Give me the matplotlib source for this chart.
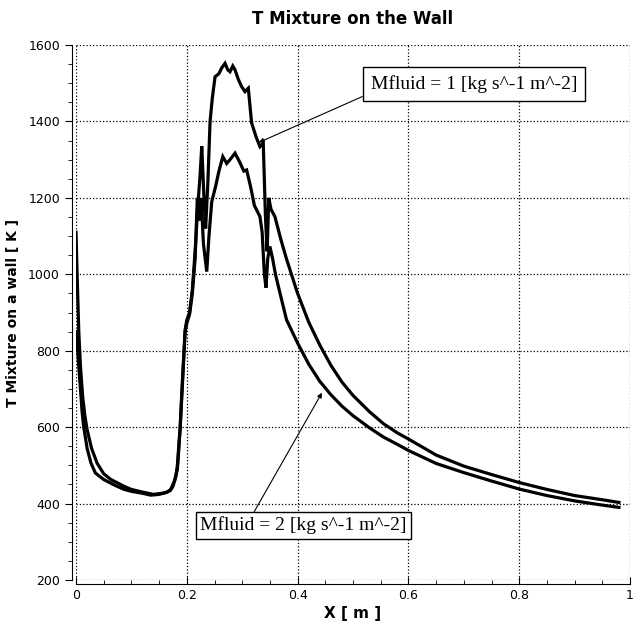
import numpy as np
import matplotlib
matplotlib.use('Agg')
import matplotlib.pyplot as plt
from matplotlib.ticker import MultipleLocator

# Mfluid = 1 (upper curve in peak and tail)
x1 = [0, 0.002, 0.005, 0.008, 0.012, 0.016, 0.02, 0.028, 0.038, 0.05,
      0.063, 0.087, 0.1, 0.12, 0.14, 0.16, 0.17, 0.175, 0.18, 0.183,
      0.188, 0.192, 0.197, 0.2, 0.205, 0.21, 0.215, 0.22, 0.224, 0.227,
      0.231, 0.234, 0.238, 0.242, 0.246, 0.251, 0.258, 0.263, 0.269, 0.274,
      0.278, 0.283, 0.287, 0.293, 0.299, 0.305, 0.311, 0.317, 0.325, 0.332,
      0.338, 0.342, 0.345, 0.348, 0.352, 0.359, 0.37, 0.38, 0.39, 0.4,
      0.42, 0.44, 0.46, 0.48, 0.5, 0.53, 0.555, 0.58, 0.6, 0.65,
      0.7, 0.75, 0.8, 0.85, 0.9, 0.95, 0.98]
y1 = [1110, 1000, 850, 760, 680, 630, 594, 545, 506, 478,
      463, 445, 437, 430, 424, 428, 434, 445, 470, 500,
      600, 720, 855, 880, 900, 960, 1060, 1180, 1260, 1335,
      1200, 1120, 1240, 1400, 1460, 1517, 1525, 1540, 1552, 1535,
      1530, 1545, 1535, 1510, 1491, 1478, 1487, 1396, 1360, 1334,
      1343, 1150, 1060, 1200, 1170, 1151, 1090, 1040, 995, 950,
      875, 815, 762, 718, 683, 640, 609, 585, 569, 527,
      498, 476, 455, 437, 421, 410, 403]

# Mfluid = 2
x2 = [0, 0.003, 0.006, 0.009, 0.011, 0.014, 0.02, 0.027, 0.035, 0.05,
      0.07, 0.087, 0.1, 0.12, 0.135, 0.15, 0.165, 0.171, 0.178, 0.183,
      0.188, 0.192, 0.197, 0.2, 0.205, 0.21, 0.215, 0.219, 0.222, 0.226,
      0.23, 0.236, 0.24, 0.245, 0.252, 0.258, 0.265, 0.272, 0.278, 0.287,
      0.295, 0.303, 0.308, 0.315, 0.322, 0.332, 0.336, 0.34, 0.343, 0.346,
      0.35, 0.355, 0.36, 0.37, 0.38, 0.4, 0.42, 0.44, 0.46, 0.48,
      0.5, 0.53, 0.555, 0.58, 0.6, 0.65, 0.7, 0.75, 0.8, 0.85,
      0.9, 0.95, 0.98]
y2 = [850, 800, 740, 680, 640, 600, 545, 506, 480, 463,
      448, 437, 432, 427, 422, 424, 430, 437, 460, 489,
      595, 710, 850, 872, 895, 950, 1040, 1200, 1140, 1200,
      1080, 1007, 1100, 1190, 1230, 1270, 1308, 1290, 1300, 1317,
      1295, 1270, 1273, 1230, 1180, 1151, 1110, 1000, 965, 1040,
      1073, 1040, 1000, 940, 881, 820, 765, 720, 685, 655,
      630, 598, 574, 555, 539, 505, 481, 459, 438, 421,
      407, 396, 390]

label1 = 'Mfluid = 1 [kg s^-1 m^-2]'
label2 = 'Mfluid = 2 [kg s^-1 m^-2]'

fig = plt.figure(figsize=(6.33, 6.33), dpi=100)
ax = fig.add_axes([76 / 633, 1 - 580 / 633, (630 - 76) / 633, (580 - 45) / 633])

ax.plot(x1, y1, color='black', lw=2.3, solid_joinstyle='miter')
ax.plot(x2, y2, color='black', lw=2.3, solid_joinstyle='miter')

ax.set_xlim(0, 1)
ax.set_ylim(200, 1600)
ax.xaxis.set_major_locator(MultipleLocator(0.2))
ax.xaxis.set_minor_locator(MultipleLocator(0.05))
ax.yaxis.set_major_locator(MultipleLocator(200))
ax.yaxis.set_minor_locator(MultipleLocator(50))
ax.xaxis.set_major_formatter(plt.FuncFormatter(lambda v, p: '%g' % v))

ax.spines['top'].set_visible(False)
ax.spines['right'].set_visible(False)
ax.spines['left'].set_position(('outward', 3))
ax.spines['bottom'].set_position(('outward', 3))
ax.tick_params(axis='y', which='major', direction='out', length=5, labelsize=9)
ax.tick_params(axis='y', which='minor', direction='out', length=3)
ax.tick_params(axis='x', which='major', direction='in', length=5, labelsize=9)
ax.tick_params(axis='x', which='minor', direction='in', length=3)

ax.grid(True, which='major', color='black', linestyle=':', lw=0.9)

ax.set_title('T Mixture on the Wall', fontsize=12, fontweight='bold', pad=15)
ax.set_xlabel('X [ m ]', fontsize=11, fontweight='bold', labelpad=3)
ax.set_ylabel('T Mixture on a wall [ K ]', fontsize=10, fontweight='bold', labelpad=6)

ax.annotate(label1, xy=(0.33, 1345), xytext=(0.718, 1498),
            ha='center', va='center', fontsize=14, family='Liberation Serif',
            bbox=dict(boxstyle='square,pad=0.4', fc='white', ec='black', lw=1),
            arrowprops=dict(arrowstyle='-|>', color='black', lw=0.8,
                            mutation_scale=7, relpos=(0, 0), shrinkA=0, shrinkB=0))
ax.annotate(label2, xy=(0.444, 690), xytext=(0.41, 343),
            ha='center', va='center', fontsize=14, family='Liberation Serif',
            bbox=dict(boxstyle='square,pad=0.22', fc='white', ec='black', lw=1),
            arrowprops=dict(arrowstyle='-|>', color='black', lw=0.8,
                            mutation_scale=7, relpos=(0.25, 1), shrinkA=0, shrinkB=0))

fig.savefig('out.png', dpi=100)
